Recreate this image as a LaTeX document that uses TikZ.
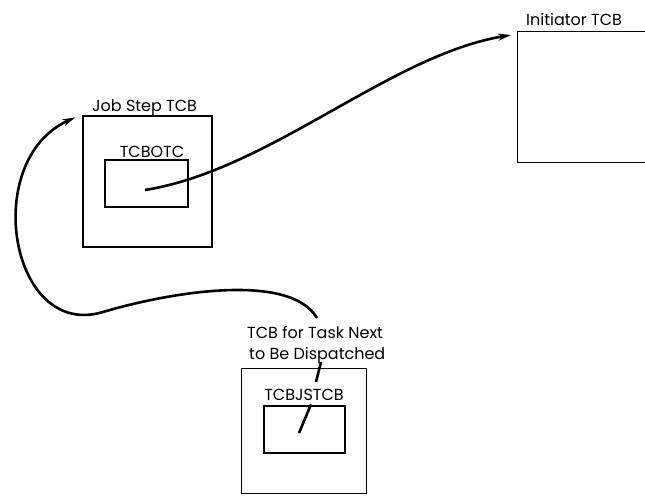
\documentclass[tikz,border=0pt]{standalone}
\usepackage{fontspec}
\setmainfont{Poppins}
\usetikzlibrary{arrows.meta,calc}
\begin{document}
\begin{tikzpicture}[x=1pt, y=-1pt,
        font=\fontsize{16}{19}\selectfont,
        bloco/.style={draw, line width=1.2pt, inner sep=0pt},
        rotulo/.style={inner sep=0pt, anchor=base west},
        ponteiro/.style={line width=2.6pt},
        seta/.style={ponteiro, -{Stealth[length=13pt, width=7pt]}}]
        \useasboundingbox (0,0) rectangle (645,496);
        \clip (0,0) rectangle (645,496);
        % caixas
        \node[bloco, minimum width=129, minimum height=131] (jobstep) at (147.5,181.5) {};
        \node[bloco, minimum width=83, minimum height=47] (tcbotc) at (146.5,183.5) {};
        \node[bloco, minimum width=140, minimum height=131, anchor=north west] (initiator) at (517,31) {};
        \node[bloco, minimum width=125, minimum height=125, anchor=north west] (nexttcb) at (241,368) {};
        \node[bloco, minimum width=81, minimum height=47] (tcbjstcb) at (304.5,429.5) {};
        % rotulos
        \node[rotulo] (ljobstep) at (92,111) {Job Step TCB};
        \node[rotulo, anchor=base] (ltcbotc) at (152,157) {TCBOTC};
        \node[rotulo] (linitiator) at (526,25) {Initiator TCB};
        \node[rotulo, anchor=base] (ltcbjstcb) at (304,400) {TCBJSTCB};
        \node[rotulo] (lnext) at (247,338) {TCB for Task Next};
        \node[rotulo] (lnext2) at (249,359) {to Be Dispatched};
        % ligacoes
        \coordinate (ini) at ($(tcbotc.center)+(-1.5,6.5)$);
        \coordinate (fim) at ($(initiator.north west)+(-6,4)$);
        \draw[seta] (ini) .. controls (270,170) and (390,55) .. (fim);
        \coordinate (topo) at (317,318);
        \coordinate (meio) at (103,312);
        \coordinate (alvo) at ($(jobstep.north west)+(-7,2)$);
        \draw[ponteiro] (topo) .. controls (290,272) and (170,292) .. (meio);
        \draw[seta] (meio) .. controls (10,340) and (-20,160) .. (alvo);
        \draw[ponteiro] (321,362) -- (316,382);
        \draw[ponteiro] ($(tcbjstcb.north)+(6.5,-1)$) -- ($(tcbjstcb.center)+(-5.5,3.5)$);
\end{tikzpicture}
\end{document}
